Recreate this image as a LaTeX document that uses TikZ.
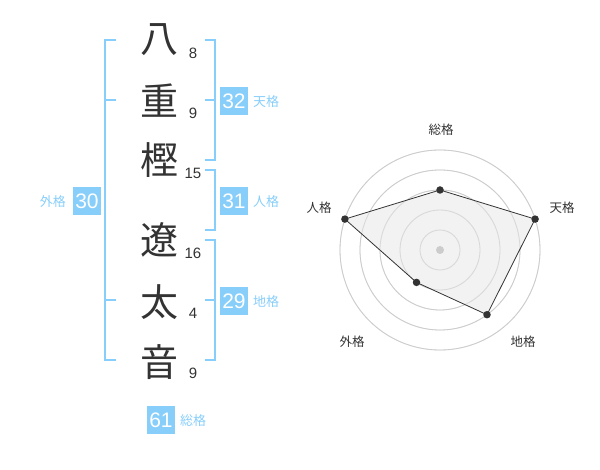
\documentclass[tikz,border=0pt]{standalone}
\usepackage{fontspec}
\usetikzlibrary{calc}
\setmainfont{Liberation Sans}
\newfontfamily\cjk{Noto Sans CJK JP}
\definecolor{sky}{HTML}{87CEFA}
\definecolor{ink}{HTML}{333333}
\definecolor{ring}{HTML}{CCCCCC}
\definecolor{area}{HTML}{F0F0F0}
\tikzset{
  kanji/.style={font=\cjk\fontsize{38}{38}\selectfont, text=ink, inner sep=0pt},
  stroke/.style={font=\fontsize{15}{15}\selectfont, text=ink, inner sep=0pt},
  valbox/.style={fill=sky, text=white, minimum width=28pt, minimum height=28pt, inner sep=0pt, font=\fontsize{21}{21}\selectfont},
  kaku/.style={font=\cjk\fontsize{13}{13}\selectfont, text=sky, inner sep=0pt},
  bracket/.style={draw=sky, line width=2pt},
  radlab/.style={font=\cjk\fontsize{12.5}{12.5}\selectfont, text=ink, inner sep=0pt},
  ringline/.style={draw=ring, line width=0.8pt},
  dot/.style={circle, fill=ink, minimum size=7.5pt, inner sep=0pt},
}
\begin{document}
\begin{tikzpicture}[x=1pt,y=-1pt]
\useasboundingbox (0,0) rectangle (600,470);
% name characters
\node[kanji] (k1) at (159,40) {八};
\node[kanji] (k2) at (159,101) {重};
\node[kanji] (k3) at (159,160) {樫};
\node[kanji] (k4) at (159,240) {遼};
\node[kanji] (k5) at (159,302) {太};
\node[kanji] (k6) at (159,362) {音};
% stroke counts
\node[stroke] (s1) at (193,53) {8};
\node[stroke] (s2) at (193,113) {9};
\node[stroke] (s3) at (193,173) {15};
\node[stroke] (s4) at (193,253) {16};
\node[stroke] (s5) at (193,313) {4};
\node[stroke] (s6) at (193,373) {9};
% brackets
\draw[bracket] (116,40) -- (105,40) -- (105,360) -- (116,360);
\draw[bracket] (105,100) -- (116,100);
\draw[bracket] (105,300) -- (116,300);
\draw[bracket] (205,40) -- (215,40) -- (215,160) -- (205,160);
\draw[bracket] (215,100) -- (205,100);
\draw[bracket] (205,170) -- (215,170) -- (215,230) -- (205,230);
\draw[bracket] (205,240) -- (215,240) -- (215,360) -- (205,360);
\draw[bracket] (215,300) -- (205,300);
% value boxes
\node[valbox] (gai) at (87,201) {30};
\node[kaku, anchor=east] (gail) at (66,202) {外格};
\node[valbox] (ten) at (234,101) {32};
\node[kaku, anchor=west] (tenl) at (253,102) {天格};
\node[valbox] (jin) at (234,201) {31};
\node[kaku, anchor=west] (jinl) at (253,202) {人格};
\node[valbox] (chi) at (234,301) {29};
\node[kaku, anchor=west] (chil) at (253,302) {地格};
\node[valbox] (sou) at (161,420) {61};
\node[kaku, anchor=west] (soul) at (180,421) {総格};
% radar chart
\coordinate (c) at (440,250);
\foreach \r in {20,40,60,80,100} \draw[ringline] (c) circle[radius=\r];
\coordinate (p1) at ($(c)+(0,-60)$);
\coordinate (p2) at ($(c)+(95.1,-30.9)$);
\coordinate (p3) at ($(c)+(47.0,64.7)$);
\coordinate (p4) at ($(c)+(-23.5,32.4)$);
\coordinate (p5) at ($(c)+(-95.1,-30.9)$);
\path[fill=area, fill opacity=0.85] (p1) -- (p2) -- (p3) -- (p4) -- (p5) -- cycle;
\foreach \r in {20,40,60,80,100} \draw[ringline, draw opacity=0.6] (c) circle[radius=\r];
\draw[ink, line width=0.8pt] (p1) -- (p2) -- (p3) -- (p4) -- (p5) -- cycle;
\node[circle, fill=ring, minimum size=8pt, inner sep=0pt] (cd) at (c) {};
\foreach \p in {p1,p2,p3,p4,p5} \node[dot] at (\p) {};
\node[radlab] (l1) at (441,130) {総格};
\node[radlab] (l2) at (562,208) {天格};
\node[radlab] (l3) at (523,342) {地格};
\node[radlab] (l4) at (352,342) {外格};
\node[radlab] (l5) at (319,208) {人格};
\end{tikzpicture}
\end{document}
